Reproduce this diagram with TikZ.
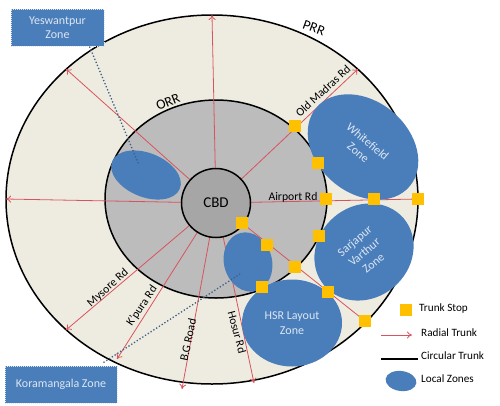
\documentclass[tikz,border=0pt]{standalone}
\usepackage{fontspec}
\setmainfont{Carlito}
\usetikzlibrary{arrows.meta,shapes.geometric}
\definecolor{ringc}{HTML}{EEECE1}
\definecolor{midc}{HTML}{BCBCBC}
\definecolor{cbdc}{HTML}{A6A6A6}
\definecolor{zonec}{HTML}{4A7EBB}
\definecolor{radc}{HTML}{D9535C}
\definecolor{stopc}{HTML}{FFC000}
\definecolor{dotc}{HTML}{3F5F85}
\definecolor{ztxt}{HTML}{DCE6F2}
\tikzset{
 ringline/.style={draw=black,line width=1.5pt},
 radial/.style={draw=radc,line width=0.8pt,-{To[length=5pt,width=7pt]}},
 radialplain/.style={draw=radc,line width=0.8pt},
 zone/.style={ellipse,fill=zonec,inner sep=0pt,align=center,text=ztxt,font=\fontsize{12}{14.5}\selectfont},
 stopbox/.style={rectangle,fill=stopc,minimum size=12pt,inner sep=0pt},
 callout/.style={rectangle,fill=zonec,draw=ztxt,densely dotted,line width=1pt,inner sep=0pt,align=center,text=ztxt,font=\fontsize{12}{14.5}\selectfont},
 dotlink/.style={draw=dotc,line width=1.3pt,dotted},
 lbl/.style={font=\fontsize{11.7}{13}\selectfont,text=black,inner sep=0pt},
 lbig/.style={font=\fontsize{14}{16}\selectfont,text=black,inner sep=0pt},
 legend/.style={font=\fontsize{11.2}{13}\selectfont,text=black,inner sep=0pt,anchor=west},
}
\begin{document}
\begin{tikzpicture}[x=1pt,y=-1pt]
\useasboundingbox (0,0) rectangle (500,405);
\fill[white] (0,0) rectangle (500,405);
% rings
\node[ellipse,ringline,fill=ringc,minimum width=412pt,minimum height=369pt,inner sep=0pt] (prr) at (212,199.5) {};
\node[ellipse,ringline,fill=midc,minimum width=222pt,minimum height=198pt,inner sep=0pt] (orr) at (216,199) {};
% anchors of the radials
\coordinate (tN) at (212,15);
\coordinate (tNW) at (66,69);
\coordinate (tW) at (6,199);
\coordinate (tMy) at (66,330);
\coordinate (tKp) at (117,359);
\coordinate (tBG) at (182,389);
\coordinate (tHo) at (254,383);
\coordinate (tNE) at (358,69);
\coordinate (tE) at (418,199);
% zones under radials
\node[zone,minimum width=73pt,minimum height=44pt,rotate=-22] (yz) at (146,175) {};
% radials
\coordinate (cc) at (216,203);
\draw[radial] (cc) -- (tN);
\draw[radial] (cc) -- (tNW);
\draw[radial] (cc) -- (tW);
\draw[radial] (cc) -- (tMy);
\draw[radial] (cc) -- (tKp);
\draw[radial] (cc) -- (tBG);
\draw[radial] (cc) -- (tHo);
\draw[radial] (cc) -- (tNE);
\draw[radialplain] (cc) -- (tE);
% CBD
\node[circle,ringline,fill=cbdc,minimum size=69pt,inner sep=0pt,font=\fontsize{15}{17}\selectfont] (cbd) at (216,203) {CBD};
% zones
\node[zone,minimum width=122pt,minimum height=92pt,rotate=-40] (wf) at (363,147) {Whitefield\\Zone};
\node[zone,minimum width=104pt,minimum height=92pt,rotate=40] (sv) at (364,252) {Sarjapur\\Varthur\\Zone};
\node[zone,minimum width=100pt,minimum height=87pt] (hsr) at (292,323) {HSR Layout\\Zone};
\node[zone,minimum width=60pt,minimum height=48pt,rotate=-75] (kz) at (248,262) {};
% SE radial
\coordinate (sS) at (242,223);
\draw[radialplain] (sS) -- (365,321);
% dotted links
\node[callout,minimum width=93pt,minimum height=37pt] (ybox) at (57.5,27.5) {Yeswantpur\\Zone};
\node[callout,minimum width=112pt,minimum height=37pt] (kbox) at (61,384.5) {Koramangala Zone};
\coordinate (yend) at (139,165);
\coordinate (kend) at (240,274);
\draw[dotlink] (ybox.south east) ++(-15,0) -- (yend);
\draw[dotlink] (kbox.north east) ++(-14,-3) -- (kend);
% stops
\node[stopbox] (s1) at (295,126) {};
\node[stopbox] (s2) at (318,163) {};
\node[stopbox] (s3) at (326,199) {};
\node[stopbox] (s4) at (374,199) {};
\node[stopbox] (s5) at (418,199) {};
\node[stopbox] (s6) at (319,236) {};
\node[stopbox] (s7) at (295,267) {};
\node[stopbox] (s8) at (328,292) {};
\node[stopbox] (s9) at (365,321) {};
\node[stopbox] (s10) at (262,287) {};
\node[stopbox] (s11) at (267,245) {};
\node[stopbox] (s12) at (242,223) {};
% labels
\node[lbig,rotate=22] (lorr) at (168,102) {ORR};
\node[lbig,rotate=-20] (lprr) at (314,28) {PRR};
\node[lbl,rotate=43] (l1) at (323,91) {Old Madras Rd};
\node[lbl] (l2) at (293,197) {Airport Rd};
\node[lbl,rotate=42] (l3) at (108,288) {Mysore Rd};
\node[lbl,rotate=56] (l4) at (142,306) {K'pura Rd};
\node[lbl,rotate=78] (l5) at (188,340) {B.G Road};
\node[lbl,rotate=-75] (l6) at (237,332) {Hosur Rd};
% legend
\node[stopbox] (lgs) at (406,310) {};
\node[legend] (lt1) at (419,309) {Trunk Stop};
\coordinate (ra) at (381,335);
\coordinate (rb) at (412,335);
\draw[radial] (ra) -- (rb);
\node[legend] (lt2) at (421,333) {Radial Trunk};
\coordinate (ca) at (381,359);
\coordinate (cb) at (418,359);
\draw[ringline] (ca) -- (cb);
\node[legend] (lt3) at (421,356) {Circular Trunk};
\node[zone,minimum width=31pt,minimum height=20pt,rotate=-8] (lgz) at (401,381) {};
\node[legend] (lt4) at (421,379) {Local Zones};
\end{tikzpicture}
\end{document}
